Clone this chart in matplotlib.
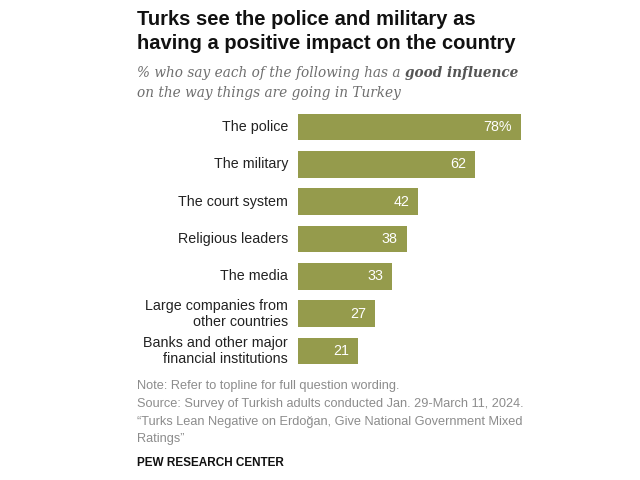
import matplotlib
matplotlib.use("Agg")
import matplotlib.pyplot as plt
from matplotlib.transforms import offset_copy

categories = ["The police", "The military", "The court system", "Religious leaders",
              "The media", "Large companies from\nother countries",
              "Banks and other major\nfinancial institutions"]
values = [78, 62, 42, 38, 33, 27, 21]
value_labels = ["78%", "62", "42", "38", "33", "27", "21"]

BAR = "#959b4c"
GRAY = "#8c8c8c"

plt.rcParams['font.family'] = ['Liberation Sans', 'DejaVu Sans']

fig = plt.figure(figsize=(6.4, 4.8), dpi=100)
ax = fig.add_axes([298/640, 1-369.7/480, 0.45, (369.7-108.3)/480])

y = list(range(len(categories)))
ax.barh(y, values, height=0.72, color=BAR)
ax.set_xlim(0, 0.45*640/(223/78))
ax.set_ylim(len(categories)-0.5, -0.5)
ax.axis('off')

for i, (v, lab) in enumerate(zip(values, value_labels)):
    tr = offset_copy(ax.transData, fig=fig, x=-9, y=0, units='dots')
    ax.text(v, i, lab, transform=tr, ha='right', va='center', color='white', fontsize=10.3)
    tr2 = offset_copy(ax.transData, fig=fig, x=-10, y=0, units='dots')
    ax.text(0, i, categories[i], transform=tr2, ha='right', va='center', color='#222222',
            fontsize=10.3, linespacing=1.15)

# Title
title_lines = ["Turks see the police and military as", "having a positive impact on the country"]
for k, line in enumerate(title_lines):
    fig.text(137/640, 1-(25+24*k)/480, line, ha='left', va='baseline', fontsize=14.5,
             fontweight='bold', color='#111111')

# Subtitle
serif = ['DejaVu Serif']
renderer = fig.canvas.get_renderer()
t1 = fig.text(137/640, 1-77/480, "% who say each of the following has a ", ha='left', va='baseline',
              fontsize=9.85, style='italic', color='#6f6f6f', family=serif)
bb = t1.get_window_extent(renderer)
fig.text(bb.x1/640, 1-77/480, "good influence", ha='left', va='baseline',
         fontsize=9.85, style='italic', fontweight='bold', color='#555555', family=serif)
fig.text(137/640, 1-97.5/480, "on the way things are going in Turkey", ha='left', va='baseline',
         fontsize=9.85, style='italic', color='#6f6f6f', family=serif)

# Notes
notes = ["Note: Refer to topline for full question wording.",
         "Source: Survey of Turkish adults conducted Jan. 29-March 11, 2024.",
         "\u201cTurks Lean Negative on Erdo\u011fan, Give National Government Mixed",
         "Ratings\u201d"]
for k, line in enumerate(notes):
    fig.text(137/640, 1-(386+17.8*k)/480, line, ha='left', va='center', fontsize=9.2, color=GRAY)

fig.text(137/640, 1-463/480, "PEW RESEARCH CENTER", ha='left', va='center', fontsize=8.5,
         fontweight='bold', color='#111111')

fig.savefig("out.png", dpi=100)
